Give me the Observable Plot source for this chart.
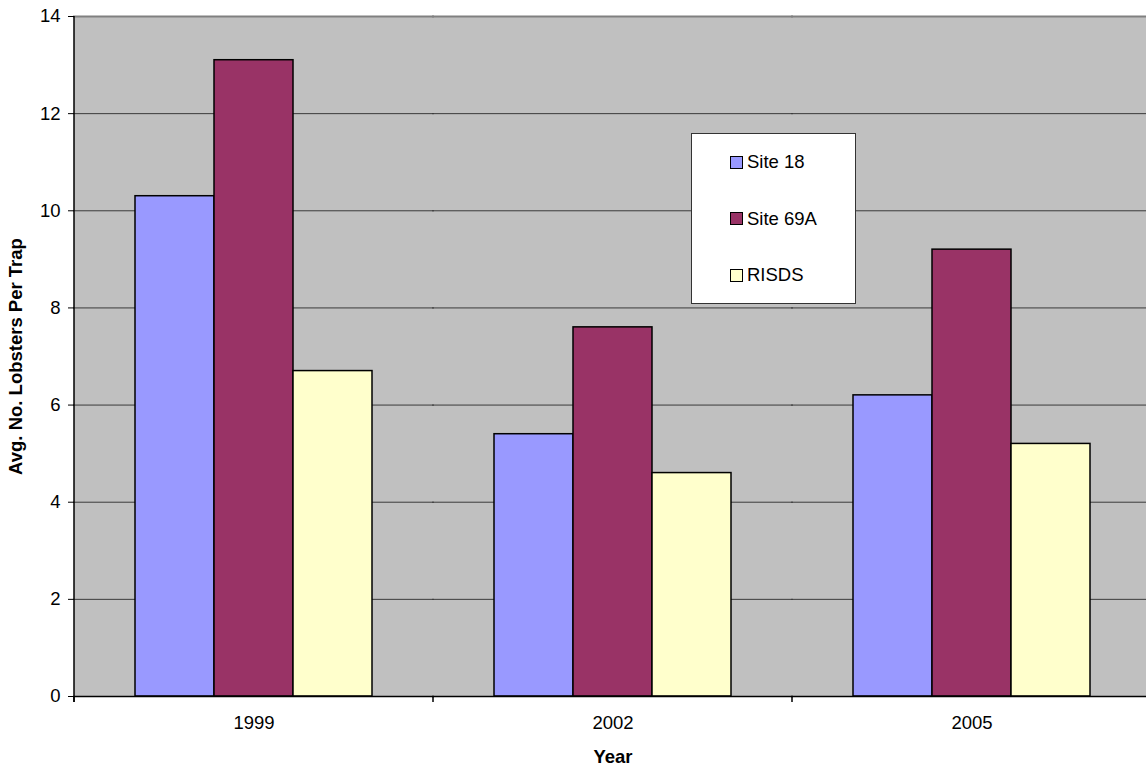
<!DOCTYPE html>
<html>
<head>
<meta charset="utf-8">
<script src="https://cdn.jsdelivr.net/npm/d3@7"></script>
<script src="https://cdn.jsdelivr.net/npm/@observablehq/plot@0.6"></script>
<style>
  html, body { margin: 0; padding: 0; background: #fff; overflow: hidden; }
  #wrap { position: relative; width: 1146px; height: 768px; overflow: hidden; font-family: "Liberation Sans", Arial, sans-serif; }
  #wrap svg { max-width: none !important; display: block; }
  #legend { position: absolute; left: 691px; top: 133px; width: 163px; height: 169px; background: #fff; border: 1px solid #333; box-sizing: content-box; }
  .item { position: absolute; left: 38px; height: 22px; display: flex; align-items: center; font-size: 18.5px; color: #000; }
  .sw { width: 11px; height: 11px; border: 1px solid #000; margin-right: 4px; }
</style>
</head>
<body>
<div id="wrap"></div>
<script>
const years = ["1999", "2002", "2005"];
const series = ["Site 18", "Site 69A", "RISDS"];
const site18 = [10.3, 5.4, 6.2];
const site69A = [13.1, 7.6, 9.2];
const risds = [6.7, 4.6, 5.2];
const colors = ["#9999FF", "#993366", "#FFFFCC"];
const yTicks = [0, 2, 4, 6, 8, 10, 12, 14];
const yLabel = "Avg. No. Lobsters Per Trap";
const xLabel = "Year";

const values = [site18, site69A, risds];
const data = years.flatMap((yr, i) => series.map((s, j) => ({year: yr, series: s, value: values[j][i]})));

const font = "'Liberation Sans', Arial, sans-serif";
const chart = Plot.plot({
  width: 1152,
  height: 768,
  marginLeft: 73,
  marginRight: 0,
  marginTop: 16,
  marginBottom: 72,
  style: {fontFamily: font, fontSize: "18.5px", color: "#000", background: "transparent", overflow: "visible", maxWidth: "none"},
  fx: {domain: years, padding: 0},
  x: {domain: series, paddingInner: 0, paddingOuter: 0.756, axis: null},
  y: {domain: [0, 14]},
  color: {domain: series, range: colors},
  marks: [
    Plot.gridY(yTicks.slice(1, -1), {stroke: "#3a3a3a", strokeOpacity: 1, strokeWidth: 1, insetLeft: -1, insetRight: -1}),
    Plot.ruleY([14], {stroke: "#808080", strokeWidth: 2, insetLeft: -1, insetRight: -1}),
    Plot.barY(data, {fx: "year", x: "series", y: "value", fill: "series", stroke: "#000", strokeWidth: 1.5}),
    Plot.ruleY([0], {stroke: "#000", strokeWidth: 1.5, insetLeft: -1, insetRight: -1}),
    Plot.axisY(yTicks, {tickSize: 6, tickPadding: 8, stroke: "#000", label: yLabel, labelAnchor: "center", labelOffset: 66}),
    Plot.axisFx({anchor: "bottom", tickSize: 0, tickPadding: 19, label: xLabel, labelAnchor: "center", labelOffset: 66})
  ]
});

const svg = d3.select(chart);
svg.selectAll('g[aria-label="y-axis label"] text, g[aria-label="fx-axis label"] text')
  .style("font-weight", "bold");
svg.selectAll('g[aria-label="y-axis label"] text').text(yLabel);
svg.selectAll('g[aria-label="fx-axis label"] text').text(xLabel);

// plot-area background, category boundary ticks and left axis line, from the plot's scales
const fx = chart.scale("fx");
const ys = chart.scale("y");
const y0 = ys.apply(0), y14 = ys.apply(14);
const xStart = fx.apply(years[0]);
const xEnd = fx.apply(years[years.length - 1]) + fx.bandwidth;
svg.insert("rect", ":first-child")
  .attr("x", xStart).attr("y", y14)
  .attr("width", xEnd - xStart).attr("height", y0 - y14)
  .attr("fill", "#c0c0c0");
const bounds = years.map(yr => fx.apply(yr)).concat([xEnd]);
const g = svg.append("g").attr("aria-label", "category ticks");
g.selectAll("line.b").data(bounds).join("line")
  .attr("x1", d => d).attr("x2", d => d)
  .attr("y1", y0).attr("y2", y0 + 6)
  .attr("stroke", "#000").attr("stroke-width", 1.5);
g.append("line")
  .attr("x1", xStart).attr("x2", xStart)
  .attr("y1", y14).attr("y2", y0 + 6)
  .attr("stroke", "#000").attr("stroke-width", 1.5);

const wrap = document.getElementById("wrap");
wrap.appendChild(chart);

// legend
const legend = document.createElement("div");
legend.id = "legend";
series.forEach((s, i) => {
  const it = document.createElement("div");
  it.className = "item";
  it.style.top = (17 + i * 56.7) + "px";
  const sw = document.createElement("div");
  sw.className = "sw";
  sw.style.background = colors[i];
  const t = document.createElement("span");
  t.textContent = s;
  it.appendChild(sw);
  it.appendChild(t);
  legend.appendChild(it);
});
wrap.appendChild(legend);
</script>
</body>
</html>
